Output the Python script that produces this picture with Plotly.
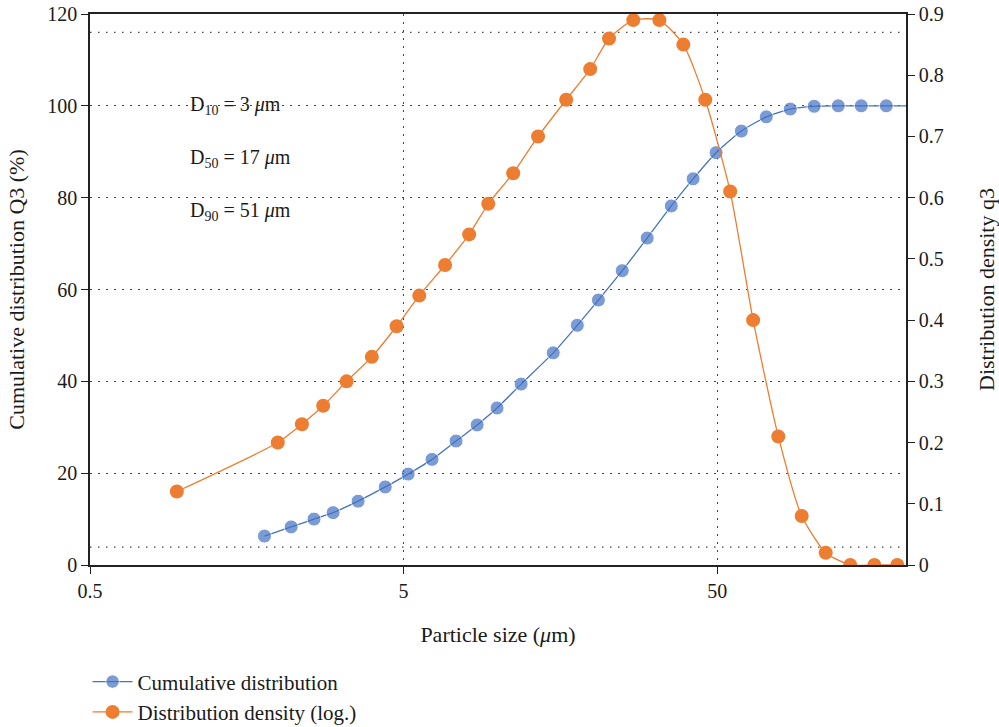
import plotly.graph_objects as go

# Cumulative distribution Q3 (%)
cum_x = [1.80, 2.19, 2.59, 2.98, 3.58, 4.37, 5.17, 6.16, 7.35, 8.58, 9.93, 11.85,
         15.0, 17.9, 20.9, 24.9, 29.9, 35.7, 41.9, 49.6, 59.7, 71.7, 85.5, 101.9,
         121.6, 144.0, 173.0, 200.0]
cum_y = [6.3, 8.3, 10.0, 11.4, 13.9, 17.0, 19.8, 23.0, 27.0, 30.5, 34.2, 39.4,
         46.2, 52.2, 57.7, 64.1, 71.2, 78.2, 84.1, 89.8, 94.5, 97.6, 99.3, 99.9,
         100.0, 100.0, 100.0, 100.0]

# Distribution density q3
den_x = [0.946, 1.985, 2.37, 2.77, 3.29, 3.96, 4.75, 5.61, 6.78, 8.09, 9.31, 11.18,
         13.42, 16.5, 19.68, 22.6, 27.0, 32.7, 39.0, 45.8, 55.0, 65.1, 78.3, 93.0,
         110.9, 132.8, 158.5, 187.6]
den_y = [0.12, 0.20, 0.23, 0.26, 0.30, 0.34, 0.39, 0.44, 0.49, 0.54, 0.59, 0.64,
         0.70, 0.76, 0.81, 0.86, 0.89, 0.89, 0.85, 0.76, 0.61, 0.40, 0.21, 0.08,
         0.02, 0.0, 0.0, 0.0]

x_ticks = [0.5, 5, 50]
x_tick_labels = ["0.5", "5", "50"]
extra_grid_y = [116, 3.9]
d_labels = ["D<sub>10</sub> = 3 <i>μ</i>m", "D<sub>50</sub> = 17 <i>μ</i>m",
            "D<sub>90</sub> = 51 <i>μ</i>m"]
d_label_y = [100, 88.5, 77]

BLUE = "#4472C4"
ORANGE = "#ED7D31"
FONT = "Liberation Serif"
AX = "#222222"
TXT = "#1a1a1a"

fig = go.Figure()
cum_sizes = [14] * (len(cum_x) - 1) + [0]
fig.add_trace(go.Scatter(
    x=cum_x, y=cum_y, name="Cumulative distribution", mode="lines+markers",
    line=dict(color=BLUE, width=1.3, shape="spline", smoothing=0.6),
    marker=dict(color=BLUE, size=cum_sizes), yaxis="y"))
fig.add_trace(go.Scatter(
    x=den_x, y=den_y, name="Distribution density (log.)", mode="lines+markers",
    line=dict(color=ORANGE, width=1.3, shape="spline", smoothing=0.6),
    marker=dict(color=ORANGE, size=14), yaxis="y2"))

dash = "1.5px,6.5px"
shapes = []
for gy in extra_grid_y:
    shapes.append(dict(type="line", xref="paper", x0=0, x1=1, yref="y", y0=gy, y1=gy,
                       line=dict(color="#444", width=1.3, dash=dash), layer="below"))

annotations = []
for t, yy in zip(d_labels, d_label_y):
    annotations.append(dict(text=t, xref="paper", x=0.12, xanchor="left", yref="y",
                            y=yy, showarrow=False, font=dict(size=20, color=TXT)))

fig.update_layout(
    width=999, height=727,
    margin=dict(l=90, r=93, t=14, b=162, autoexpand=False),
    paper_bgcolor="white", plot_bgcolor="white",
    font=dict(family=FONT, size=18.5, color=TXT),
    showlegend=True,
    legend=dict(x=-0.003, xanchor="left", y=-0.175, yanchor="top", orientation="v",
                font=dict(size=21), tracegroupgap=0, itemwidth=40,
                bgcolor="rgba(0,0,0,0)"),
    xaxis=dict(type="log", range=[-0.30103, 2.301], tickvals=x_ticks,
               ticktext=x_tick_labels, ticks="outside", ticklen=7, tickcolor=AX,
               showline=True, linecolor=AX, linewidth=1.5, mirror=True,
               showgrid=True, gridcolor="#444", gridwidth=1.3, griddash=dash,
               zeroline=False,
               title=dict(text="Particle size (<i>μ</i>m)", standoff=26),
               tickfont=dict(size=20)),
    yaxis=dict(range=[0, 120], dtick=20, ticks="outside", ticklen=7, tickcolor=AX,
               showline=True, linecolor=AX, linewidth=1.5,
               showgrid=True, gridcolor="#444", gridwidth=1.3, griddash=dash,
               zeroline=False,
               title=dict(text="Cumulative distribution Q3 (%)", standoff=17),
               tickfont=dict(size=20)),
    yaxis2=dict(range=[0, 0.9], dtick=0.1, overlaying="y", side="right",
                ticks="outside", ticklen=7, tickcolor=AX,
                showline=True, linecolor=AX, linewidth=1.5, showgrid=False,
                zeroline=False,
                title=dict(text="Distribution density q3", standoff=37),
                tickfont=dict(size=20)),
    shapes=shapes, annotations=annotations,
)

fig.write_html("out.html")
